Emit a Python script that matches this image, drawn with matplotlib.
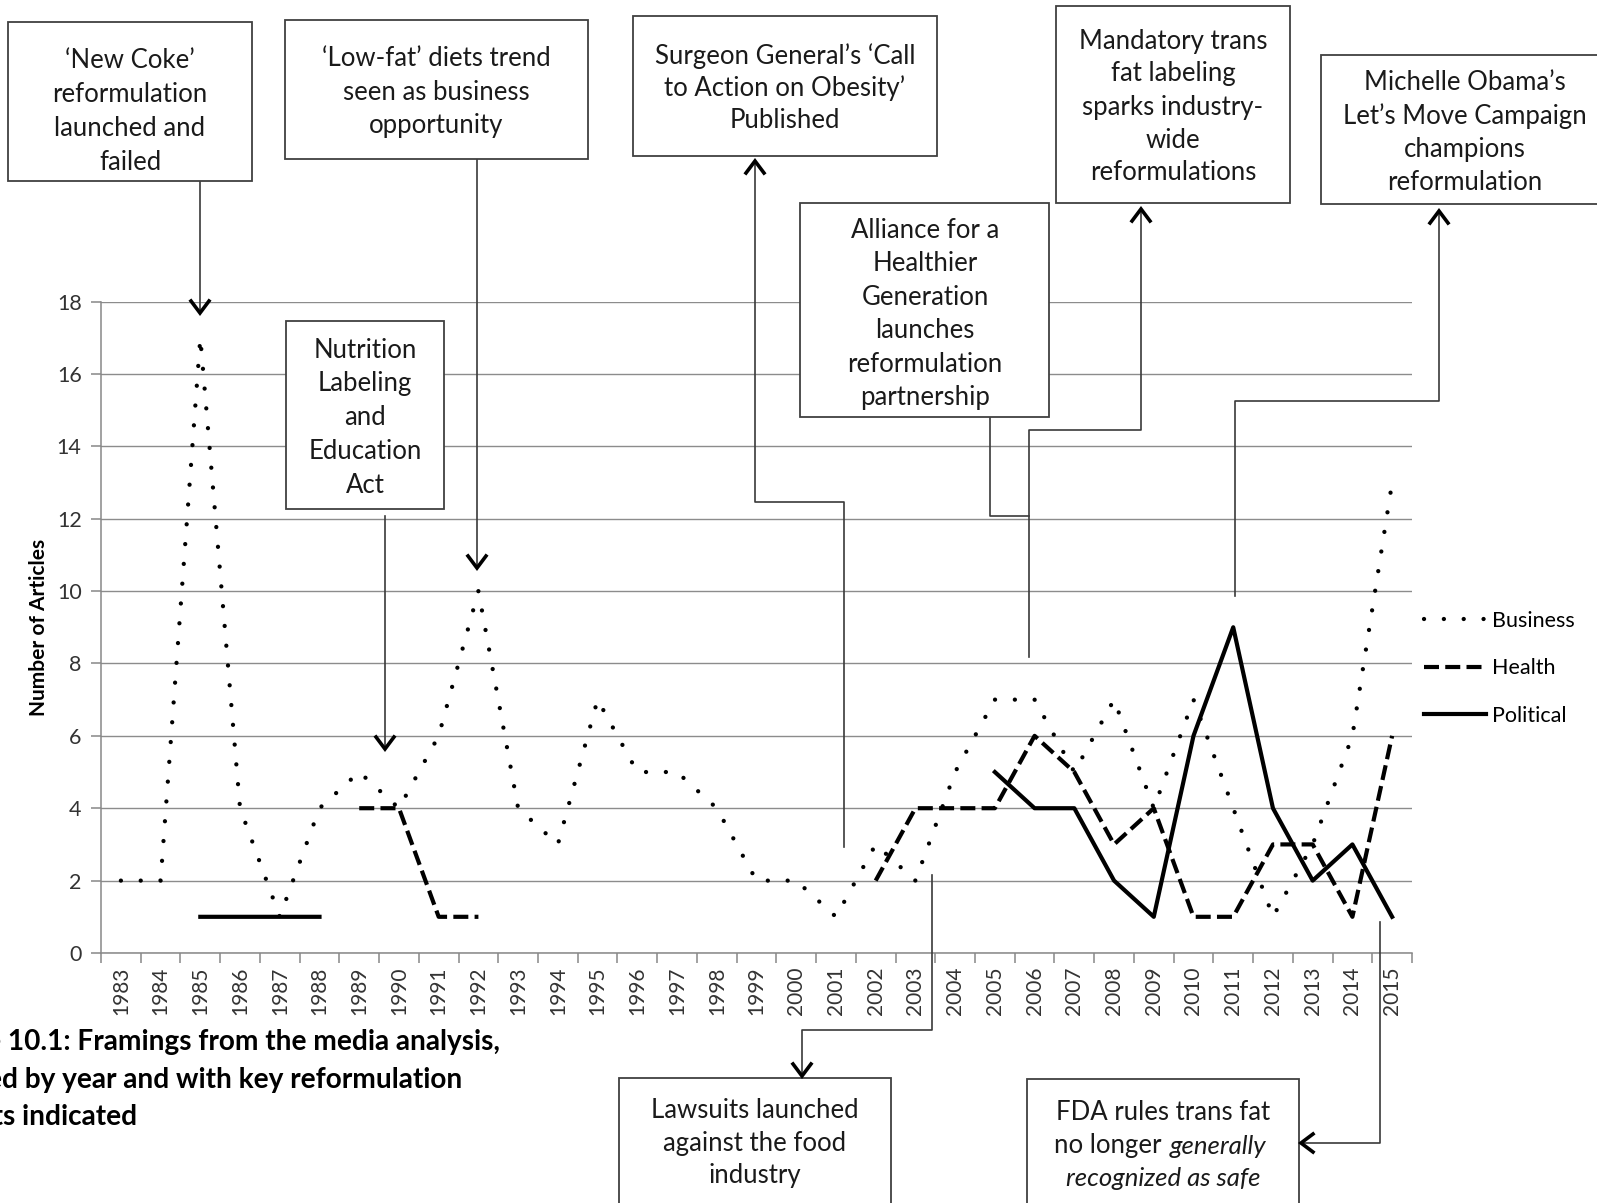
import numpy as np
import matplotlib
matplotlib.use("Agg")
import matplotlib.pyplot as plt
from matplotlib.lines import Line2D
from matplotlib.patches import Rectangle

plt.rcParams['font.family'] = ['Lato', 'DejaVu Sans']

# --- data ---
years = [str(y) for y in range(1983, 2016)]
nan = np.nan
business = [2, 2, 17, 4, 1, 4, 5, 4, 6, 10, 4, 3, 7, 5, 5, 4, 2, 2, 1, 3, 2,
            5, 7, 7, 5, 7, 4, 7, 4, 1, 3, 6, 13]
health = [nan, nan, nan, nan, nan, nan, 4, 4, 1, 1,
          nan, nan, nan, nan, nan, nan, nan, nan, nan,
          2, 4, 4, 4, 6, 5, 3, 4, 1, 1, 3, 3, 1, 6]
political = [nan, nan, 1, 1, 1, 1] + [nan] * 16 + [5, 4, 4, 2, 1, 6, 9, 4, 2, 3, 1]
y_ticks = list(range(0, 19, 2))

W, H = 1597, 1203
fig = plt.figure(figsize=(W / 100, H / 100), dpi=100)


# pixel (top-left origin) -> figure fraction
def fx(x):
    return x / W


def fy(y):
    return 1 - y / H


ax = fig.add_axes([fx(101), fy(953), fx(1412) - fx(101), fy(301.5) - fy(953)])
x = np.arange(len(years))

ax.plot(x, business, color='black', lw=3.1, linestyle=(0, (0.01, 4.6)),
        dash_capstyle='round', label='Business')
ax.plot(x, health, color='black', lw=3, linestyle=(0, (3.6, 1.5)),
        dash_capstyle='butt', label='Health')
ax.plot(x, political, color='black', lw=3, label='Political')

ax.set_xlim(-0.5, len(years) - 0.5)
ax.set_ylim(0, 18)
ax.set_yticks(y_ticks)
ax.set_xticks(x)
ax.set_xticklabels(years, rotation=90)
ax.set_xticks(np.arange(-0.5, len(years)), minor=True)
ax.tick_params(axis='x', which='major', length=0, pad=10, labelsize=15, labelcolor='#333333')
ax.tick_params(axis='x', which='minor', length=7, color='#888888', width=1.1, direction='out')
ax.tick_params(axis='y', length=7, color='#888888', width=1.1, pad=7, labelsize=15.5,
               labelcolor='#333333')
ax.yaxis.grid(True, color='#8c8c8c', lw=1.0)
ax.set_axisbelow(True)
for s in ['top', 'right']:
    ax.spines[s].set_visible(False)
for s in ['left', 'bottom']:
    ax.spines[s].set_color('#888888')
    ax.spines[s].set_linewidth(1.1)
ax.set_ylabel("Number of Articles", fontsize=15, fontweight='bold')
ax.yaxis.set_label_coords(-0.040, 0.5)

ax.legend(loc='upper left', bbox_to_anchor=(fx(1424), fy(611)), bbox_transform=fig.transFigure,
          frameon=False, fontsize=15.5, handlelength=2.9, handletextpad=0.25,
          labelspacing=1.27, borderpad=0, borderaxespad=0)

# --- annotation boxes ---
box_col = '#404040'
line_col = '#3a3a3a'
FS = 18.5


def box(x0, y0, x1, y1):
    fig.add_artist(Rectangle((fx(x0), fy(y1)), fx(x1) - fx(x0), fy(y0) - fy(y1),
                             transform=fig.transFigure, facecolor='white',
                             edgecolor=box_col, lw=1.3, zorder=5))


def lines_text(cx, y_first, lines, step=33, size=FS):
    for i, t in enumerate(lines):
        fig.text(fx(cx), fy(y_first + i * step), t, ha='center', va='center',
                 fontsize=size, color='#1a1a1a', zorder=6)


def path(pts):
    xs = [fx(p[0]) for p in pts]
    ys = [fy(p[1]) for p in pts]
    fig.add_artist(Line2D(xs, ys, color=line_col, lw=1.2, transform=fig.transFigure, zorder=4))


def head(tip, direction, length=12, half=9):
    dx, dy = direction
    tx, ty = tip
    px_, py_ = -dy, dx
    pts = [(tx - length * dx + half * px_, ty - length * dy + half * py_), (tx, ty),
           (tx - length * dx - half * px_, ty - length * dy - half * py_)]
    fig.add_artist(Line2D([fx(p[0]) for p in pts], [fy(p[1]) for p in pts], color='black',
                          lw=2.6, solid_joinstyle='miter', transform=fig.transFigure, zorder=7))


DOWN, UP, LEFT = (0, 1), (0, -1), (-1, 0)

# New Coke
box(8, 22, 252, 181)
lines_text(130, 60, ["\u2018New Coke\u2019", "reformulation", "launched and", "failed"], step=34)
path([(200, 181), (200, 312)])
head((200, 313), DOWN)

# Low-fat
box(285, 20, 588, 159)
lines_text(436, 59, ["\u2018Low-fat\u2019 diets trend", "seen as business", "opportunity"])
path([(477, 159), (477, 567)])
head((477, 568), DOWN)

# Surgeon General
box(633, 16, 937, 156)
lines_text(785, 56, ["Surgeon General\u2019s \u2018Call", "to Action on Obesity\u2019", "Published"], step=32.5)
path([(844, 847), (844, 502), (755, 502), (755, 162)])
head((755, 161), UP)

# Mandatory trans fat labeling
box(1056, 6, 1290, 203)
lines_text(1173, 41, ["Mandatory trans", "fat labeling", "sparks industry-", "wide", "reformulations"])
path([(1029, 657), (1029, 430), (1141, 430), (1141, 210)])
head((1141, 209), UP)

# Alliance
box(800, 203, 1049, 417)
lines_text(925, 230, ["Alliance for a", "Healthier", "Generation", "launches", "reformulation",
                      "partnership"], step=33.6)
path([(990, 417), (990, 516), (1029, 516)])

# Michelle Obama
box(1321, 55, 1610, 204)
lines_text(1465, 83, ["Michelle Obama\u2019s", "Let\u2019s Move Campaign", "champions", "reformulation"])
path([(1235, 596), (1235, 401), (1439, 401), (1439, 212)])
head((1439, 211), UP)

# Nutrition Labeling
box(286, 321, 444, 509)
lines_text(365, 350, ["Nutrition", "Labeling", "and", "Education", "Act"], step=33.8)
path([(385, 516), (385, 748)])
head((385, 749), DOWN)

# Lawsuits
box(619, 1078, 891, 1215)
lines_text(755, 1110, ["Lawsuits launched", "against the food", "industry"])
path([(932, 875), (932, 1030), (802, 1030), (802, 1075)])
head((802, 1076), DOWN)

# FDA
box(1027, 1079, 1299, 1215)
fig.text(fx(1163), fy(1113), "FDA rules trans fat", ha='center', va='center', fontsize=FS,
         color='#1a1a1a', zorder=6)
fig.text(fx(1162), fy(1146), "no longer", ha='right', va='center', fontsize=FS,
         color='#1a1a1a', zorder=6)
fig.text(fx(1170), fy(1146), "generally", ha='left', va='center', fontsize=FS,
         style='italic', color='#1a1a1a', zorder=6)
fig.text(fx(1163), fy(1178), "recognized as safe", ha='center', va='center', fontsize=FS,
         style='italic', color='#1a1a1a', zorder=6)
path([(1380, 922), (1380, 1143), (1302, 1143)])
head((1301, 1143), LEFT)

# caption (cut off at the left edge in the original)
cap = ["Figure 10.1: Framings from the media analysis,",
       "grouped by year and with key reformulation",
       "events indicated"]
cap_end = [500, 462, 137]
cap_y = [1042, 1080, 1117]
for t, xe, yc in zip(cap, cap_end, cap_y):
    fig.text(fx(xe), fy(yc), t, ha='right', va='center', fontsize=20.2, fontweight='bold',
             color='black')

fig.savefig("out.png", dpi=100)
